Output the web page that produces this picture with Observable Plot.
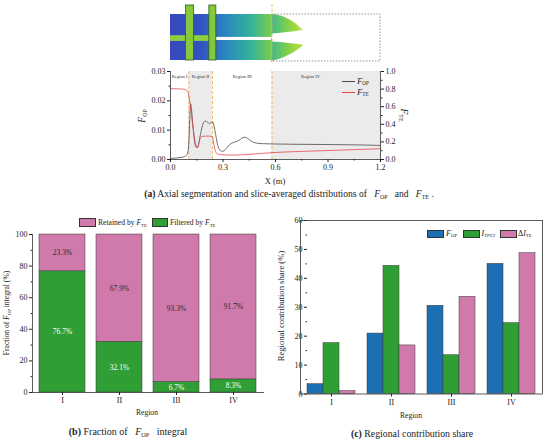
<!DOCTYPE html>
<html><head><meta charset="utf-8">
<script src="https://cdn.jsdelivr.net/npm/d3@7"></script>
<script src="https://cdn.jsdelivr.net/npm/@observablehq/plot@0.6"></script>
<style>
body{margin:0;background:#fff;}
#root{position:relative;width:550px;height:445px;overflow:hidden;font-family:"Liberation Serif","DejaVu Serif",serif;color:#222;background:#fff;}
.lbl{position:absolute;white-space:nowrap;line-height:1;}
.lbl sub{font-size:0.62em;vertical-align:-0.3em;line-height:0;font-style:normal;}
.sw{position:absolute;box-sizing:border-box;border:0.6px solid #333;}
.ln{position:absolute;height:0;}
svg{overflow:visible;}
</style></head><body><div id="root"></div>
<script>
// ---------------- data ----------------
// (a) slice-averaged distributions
const xOP = [0, 0.03, 0.06, 0.08, 0.092, 0.1, 0.106, 0.11, 0.115, 0.121, 0.128, 0.136, 0.145, 0.152, 0.16, 0.17, 0.18, 0.19, 0.2, 0.21, 0.222, 0.232, 0.24, 0.248, 0.258, 0.27, 0.285, 0.3, 0.32, 0.34, 0.36, 0.38, 0.4, 0.415, 0.425, 0.44, 0.46, 0.49, 0.53, 0.58, 0.7, 0.9, 1.05, 1.2];
const fOP = [0.0004, 0.0005, 0.0007, 0.001, 0.0014, 0.0028, 0.0075, 0.0135, 0.019, 0.0165, 0.0115, 0.0068, 0.0043, 0.004, 0.0052, 0.0082, 0.011, 0.0127, 0.0131, 0.0128, 0.0122, 0.0127, 0.0128, 0.0117, 0.0085, 0.0048, 0.0031, 0.0028, 0.0038, 0.0052, 0.0058, 0.0062, 0.0069, 0.0075, 0.0076, 0.0072, 0.0063, 0.0056, 0.0054, 0.0053, 0.0052, 0.0051, 0.005, 0.0048];
const xTE = [0, 0.05, 0.085, 0.095, 0.102, 0.108, 0.114, 0.12, 0.128, 0.136, 0.144, 0.15, 0.156, 0.162, 0.17, 0.18, 0.2, 0.22, 0.238, 0.244, 0.25, 0.258, 0.268, 0.29, 0.35, 0.45, 0.58, 0.75, 0.95, 1.2];
const fTE = [0.805, 0.803, 0.795, 0.78, 0.75, 0.69, 0.6, 0.5, 0.38, 0.26, 0.17, 0.14, 0.14, 0.18, 0.24, 0.262, 0.266, 0.266, 0.262, 0.22, 0.15, 0.09, 0.062, 0.053, 0.05, 0.058, 0.078, 0.092, 0.105, 0.123];
const regionNames = ["Region I", "Region II", "Region III", "Region IV"];
const regionBounds = [0, 0.105, 0.24, 0.58, 1.2];
const regionShaded = [false, true, false, true];
const regionLabelX = [0.052, 0.172, 0.41, 0.80];
// (b) fraction of F_OP integral (%)
const regions = ["I", "II", "III", "IV"];
const filtered = [76.7, 32.1, 6.7, 8.3];
const retained = [23.3, 67.9, 93.3, 91.7];
// (c) regional contribution share (%)
const seriesC = ["FOP", "ITPCI", "dITE"];
const shareOP = [3.4, 20.9, 30.5, 45.0];
const shareTPCI = [17.6, 44.3, 13.4, 24.5];
const shareDITE = [1.0, 16.8, 33.6, 48.7];
// schematic of the flow domain (axial x in m, normalised radius r)
const passageX = [0, 0.58];
const passageUpper = [0.44, 0.842];
const passageLower = [0.035, 0.386];
const hubStrip = {x: [0, 0.26], r: [0.37, 0.47]};
const bladeX = [[0.088, 0.135], [0.222, 0.262]];
const bladeR = [0.035, 1.0];
const jetX = [0.58, 0.63, 0.68, 0.72, 0.745, 0.76];
const jetUpperTop = [0.842, 0.815, 0.75, 0.67, 0.6, 0.565];
const jetUpperBot = [0.5, 0.515, 0.53, 0.545, 0.555, 0.565];
const jetLowerTop = [0.36, 0.35, 0.335, 0.32, 0.31, 0.3];
const jetLowerBot = [0.02, 0.06, 0.13, 0.2, 0.26, 0.3];
const outletBox = {x: [0.58, 1.2], r: [0.018, 0.842]};

// ---------------- colours ----------------
const cPink = "#cf7aab", cGreen = "#2f9e35", cBlue = "#1d6fb3";
const cOP = "#4a4a4a", cTE = "#e5484f", cDash = "#f0ad45";
const FONT = "Liberation Serif, DejaVu Serif, serif";

const root = document.getElementById("root");
function put(node, left, top) {
  node.style.position = "absolute"; node.style.left = left + "px"; node.style.top = top + "px";
  root.appendChild(node); return node;
}
function txt(html, x, y, size, opt = {}) {
  const d = document.createElement("div");
  d.className = "lbl"; d.innerHTML = html;
  d.style.fontSize = size + "px"; d.style.left = x + "px"; d.style.top = y + "px";
  d.style.color = opt.color || "#222";
  const tx = opt.align === "left" ? "0" : opt.align === "right" ? "-100%" : "-50%";
  d.style.transformOrigin = opt.align === "left" ? "0 50%" : "50% 50%";
  d.style.transform = `translate(${tx},-50%) rotate(${opt.rot || 0}deg)`;
  root.appendChild(d); return d;
}
function swatch(x, y, w, h, color) {
  const d = document.createElement("div"); d.className = "sw";
  d.style.left = x + "px"; d.style.top = y + "px"; d.style.width = w + "px"; d.style.height = h + "px";
  d.style.background = color; root.appendChild(d);
}
function lineKey(x, y, w, color) {
  const d = document.createElement("div"); d.className = "ln";
  d.style.left = x + "px"; d.style.top = y + "px"; d.style.width = w + "px";
  d.style.borderTop = `1px solid ${color}`; root.appendChild(d);
}
const baseStyle = {fontFamily: FONT, fontSize: "8px", color: "#222", background: "none", overflow: "visible"};

// ---------------- schematic (top) ----------------
const grad = () => {
  const defs = d3.create("svg:defs");
  const g1 = defs.append("linearGradient").attr("id", "gPass");
  [[0, "#3848bd"], [0.3, "#3253c2"], [0.55, "#2a86c0"], [0.8, "#33b39a"], [1, "#7ccd4e"]]
    .forEach(([o, c]) => g1.append("stop").attr("offset", o).attr("stop-color", c));
  const g2 = defs.append("linearGradient").attr("id", "gJet");
  [[0, "#3fb98f"], [0.5, "#7fcf4a"], [1, "#c4e03a"]]
    .forEach(([o, c]) => g2.append("stop").attr("offset", o).attr("stop-color", c));
  return defs.node();
};
const jetU = jetX.map((x, i) => ({x, r1: jetUpperBot[i], r2: jetUpperTop[i]}));
const jetL = jetX.map((x, i) => ({x, r1: jetLowerBot[i], r2: jetLowerTop[i]}));
const passages = [passageUpper, passageLower].map(r => ({x1: passageX[0], x2: passageX[1], r1: r[0], r2: r[1]}));
const blades = bladeX.map(b => ({x1: b[0], x2: b[1], r1: bladeR[0], r2: bladeR[1]}));
const schematic = Plot.plot({
  width: 300, height: 66, marginLeft: 50, marginRight: 40, marginTop: 5, marginBottom: 4,
  style: baseStyle,
  x: {domain: [0, 1.2], axis: null},
  y: {domain: [0, 1], axis: null},
  marks: [
    grad,
    Plot.rect([outletBox], {x1: d => d.x[0], x2: d => d.x[1], y1: d => d.r[0], y2: d => d.r[1], fill: "none", stroke: "#777", strokeWidth: 0.8, strokeDasharray: "1.5,1.5"}),
    Plot.areaY(jetU, {x: "x", y1: "r1", y2: "r2", fill: "url(#gJet)", curve: "monotone-x"}),
    Plot.areaY(jetL, {x: "x", y1: "r1", y2: "r2", fill: "url(#gJet)", curve: "monotone-x"}),
    Plot.rect(passages, {x1: "x1", x2: "x2", y1: "r1", y2: "r2", fill: "url(#gPass)"}),
    Plot.rect([hubStrip], {x1: d => d.x[0], x2: d => d.x[1], y1: d => d.r[0], y2: d => d.r[1], fill: "#8fcf3f"}),
    Plot.rect(blades, {x1: "x1", x2: "x2", y1: "r1", y2: "r2", fill: "#86c83c", stroke: "#2d5e1c", strokeWidth: 0.8}),
    Plot.ruleX([regionBounds[3]], {stroke: cDash, strokeWidth: 0.8, strokeDasharray: "3,2", y1: 0, y2: 1.05})
  ]
});
put(schematic, 120, 0);

// ---------------- (a) line chart ----------------
const opData = xOP.map((x, i) => ({x, v: fOP[i]}));
const teData = xTE.map((x, i) => ({x, v: fTE[i]}));
const regionTable = regionNames.map((name, i) => ({name, x1: regionBounds[i], x2: regionBounds[i + 1], lx: regionLabelX[i], shaded: regionShaded[i]}));
const TE_SCALE = 0.03; // right axis 0..1 mapped onto left axis 0..0.03
const chartA = Plot.plot({
  width: 300, height: 130, marginLeft: 50, marginRight: 40, marginTop: 11, marginBottom: 31,
  style: baseStyle,
  x: {domain: [0, 1.2]},
  y: {domain: [0, 0.03]},
  marks: [
    Plot.rect(regionTable.filter(d => d.shaded), {x1: "x1", x2: "x2", y1: 0, y2: 0.03, fill: "#ebebeb"}),
    Plot.ruleX(regionBounds.slice(1, 4), {stroke: cDash, strokeWidth: 0.8, strokeDasharray: "3,2"}),
    Plot.text(regionTable, {x: "lx", y: 0.03, dy: 5, text: "name", fontSize: 4.6, fill: "#333"}),
    Plot.line(opData, {x: "x", y: "v", stroke: cOP, strokeWidth: 0.8, curve: "monotone-x"}),
    Plot.line(teData, {x: "x", y: d => d.v * TE_SCALE, stroke: cTE, strokeWidth: 0.8, curve: "monotone-x"}),
    Plot.ruleX([0, 1.2], {stroke: "#333", strokeWidth: 0.8}),
    Plot.ruleY([0], {stroke: "#333", strokeWidth: 0.8}),
    Plot.axisX({ticks: [0, 0.3, 0.6, 0.9, 1.2], tickFormat: d3.format(".1f"), tickSize: 3, tickPadding: 2, label: null}),
    Plot.axisX({ticks: [0.15, 0.45, 0.75, 1.05], tickFormat: () => "", tickSize: 1.5, label: null}),
    Plot.axisY({anchor: "left", ticks: [0, 0.01, 0.02, 0.03], tickFormat: d3.format(".2f"), tickSize: 3, tickPadding: 2, label: null}),
    Plot.axisY({anchor: "left", ticks: [0.005, 0.015, 0.025], tickFormat: () => "", tickSize: 1.5, label: null}),
    Plot.axisY({anchor: "right", ticks: [0, 0.2, 0.4, 0.6, 0.8, 1].map(v => v * TE_SCALE), tickFormat: d => d3.format(".1f")(d / TE_SCALE), tickSize: 3, tickPadding: 2, label: null}),
    Plot.axisY({anchor: "right", ticks: [0.1, 0.3, 0.5, 0.7, 0.9].map(v => v * TE_SCALE), tickFormat: () => "", tickSize: 1.5, label: null})
  ]
});
put(chartA, 120, 60);
txt("<i>F</i><sub>OP</sub>", 143, 116, 9.5, {rot: -90});
txt("<i>F</i><sub>TE</sub>", 403, 115, 9.5, {rot: 90});
txt("X (m)", 275, 181, 8.5);
lineKey(342, 81, 13, cOP); txt("<i>F</i><sub>OP</sub>", 357, 81, 8.5, {align: "left"});
lineKey(342, 92, 13, cTE); txt("<i>F</i><sub>TE</sub>", 357, 92, 8.5, {align: "left"});
txt("<b>(a)</b> Axial segmentation and slice-averaged distributions of&nbsp;&nbsp; <i>F</i><sub>OP</sub>&nbsp;&nbsp; and&nbsp;&nbsp; <i>F</i><sub>TE</sub> .", 289, 194, 9.6);

// ---------------- (b) stacked bars ----------------
const bTable = regions.flatMap((region, i) => [
  {region, type: "Filtered", value: filtered[i], mid: filtered[i] / 2},
  {region, type: "Retained", value: retained[i], mid: filtered[i] + retained[i] / 2}
]);
const chartB = Plot.plot({
  width: 275, height: 190, marginLeft: 32, marginRight: 12, marginTop: 6, marginBottom: 26,
  style: baseStyle,
  x: {domain: regions, paddingInner: 0.2, paddingOuter: 0.1},
  y: {domain: [0, 100]},
  color: {domain: ["Retained", "Filtered"], range: [cPink, cGreen]},
  marks: [
    Plot.barY(bTable, {x: "region", y: "value", fill: "type", order: ["Filtered", "Retained"], stroke: "#3a3a3a", strokeWidth: 0.5}),
    Plot.text(bTable.filter(d => d.type === "Filtered"), {x: "region", y: "mid", text: d => d.value.toFixed(1) + "%", fill: "white", fontSize: 7.5}),
    Plot.text(bTable.filter(d => d.type === "Retained"), {x: "region", y: "mid", text: d => d.value.toFixed(1) + "%", fill: "#2a2a2a", fontSize: 7.5}),
    Plot.frame({anchor: "left", stroke: "#333", strokeWidth: 0.8}),
    Plot.frame({anchor: "bottom", stroke: "#333", strokeWidth: 0.8}),
    Plot.axisX({tickSize: 3, tickPadding: 2, label: null}),
    Plot.axisY({ticks: [0, 20, 40, 60, 80, 100], tickSize: 3, tickPadding: 2, label: null}),
    Plot.axisY({ticks: [10, 30, 50, 70, 90], tickFormat: () => "", tickSize: 1.5, label: null})
  ]
});
put(chartB, 0, 228);
swatch(79, 218, 17, 8.5, cPink); txt("Retained by <i>F</i><sub>TE</sub>", 98, 222.5, 7.6, {align: "left"});
swatch(152, 218, 16, 8.5, cGreen); txt("Filtered by <i>F</i><sub>TE</sub>", 170, 222.5, 7.6, {align: "left"});
txt("Fraction of <i>F</i><sub>OP</sub> integral (%)", 7, 313, 7.6, {rot: -90});
txt("Region", 147, 413, 7.6);
txt("<b>(b)</b> Fraction of&nbsp;&nbsp; <i>F</i><sub>OP</sub>&nbsp;&nbsp; integral", 128, 432, 10);

// ---------------- (c) grouped bars ----------------
const cValues = [shareOP, shareTPCI, shareDITE];
const cTable = regions.flatMap((region, i) => seriesC.map((s, j) => ({region, series: s, value: cValues[j][i]})));
const CW = 275, CH = 205, CM = {l: 25, r: 8, t: 8, b: 23.5};
const chartC = Plot.plot({
  width: CW, height: CH, marginLeft: CM.l, marginRight: CM.r, marginTop: CM.t, marginBottom: CM.b,
  style: baseStyle,
  fx: {domain: regions, paddingInner: 0.2, paddingOuter: 0.1, label: null, axis: "bottom", tickSize: 3, tickPadding: 2},
  x: {domain: seriesC, axis: null, padding: 0},
  y: {domain: [0, 60]},
  color: {domain: seriesC, range: [cBlue, cGreen, cPink]},
  marks: [
    Plot.barY(cTable, {fx: "region", x: "series", y: "value", fill: "series", stroke: "#3a3a3a", strokeWidth: 0.5}),
    Plot.axisY({ticks: [0, 10, 20, 30, 40, 50, 60], tickSize: 3, tickPadding: 2, label: null}),
    Plot.axisY({ticks: [5, 15, 25, 35, 45, 55], tickFormat: () => "", tickSize: 1.5, label: null})
  ]
});
put(chartC, 275, 212);
const frameC = Plot.plot({
  width: CW, height: CH, marginLeft: CM.l, marginRight: CM.r, marginTop: CM.t, marginBottom: CM.b,
  style: baseStyle, x: {domain: [0, 1], axis: null}, y: {domain: [0, 1], axis: null},
  marks: [Plot.frame({stroke: "#333", strokeWidth: 0.8})]
});
frameC.style.pointerEvents = "none";
put(frameC, 275, 212);
swatch(427, 229.5, 17, 8.5, cBlue); txt("<i>F</i><sub>OP</sub>", 446, 233.5, 8, {align: "left"});
swatch(463, 229.5, 17, 8.5, cGreen); txt("<i>I</i><sub><i>TPCI</i></sub>", 481.5, 233.5, 8, {align: "left"});
swatch(499.5, 229.5, 17, 8.5, cPink); txt("Δ<i>I</i><sub>TE</sub>", 518, 233.5, 8, {align: "left"});
txt("Regional contribution share (%)", 281, 306, 8.6, {rot: -90});
txt("Region", 411, 416, 7.6);
txt("<b>(c)</b> Regional contribution share", 412, 434, 9.8);
</script></body></html>
